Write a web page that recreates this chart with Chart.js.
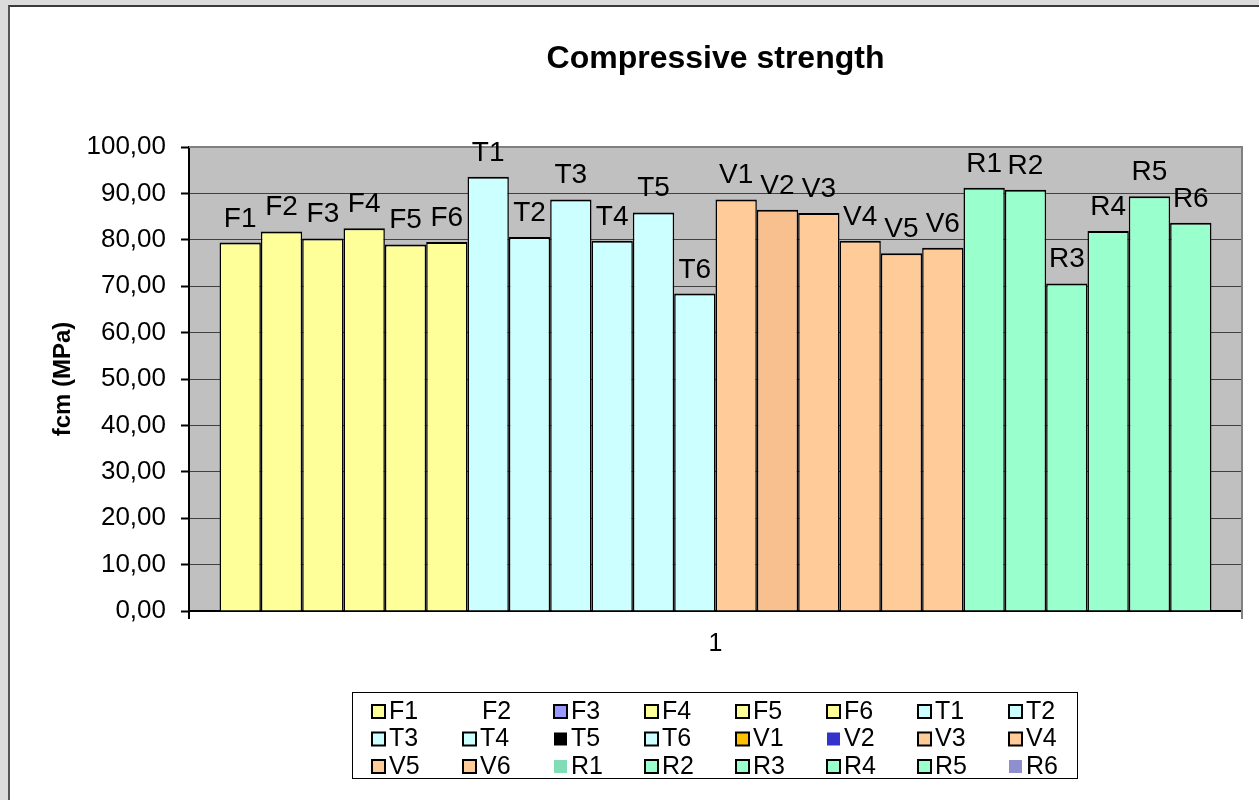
<!DOCTYPE html>
<html>
<head>
<meta charset="utf-8">
<title>Compressive strength</title>
<script src="https://cdn.jsdelivr.net/npm/chart.js@4.4.1/dist/chart.umd.min.js"></script>
<style>
  html, body { margin: 0; padding: 0; }
  body { width: 1259px; height: 800px; background: #dcdcdc; position: relative; overflow: hidden; }
  #sheet {
    position: absolute; left: 8px; top: 5px; width: 1300px; height: 850px;
    background: #fff; border-left: 2px solid #555; border-top: 2px solid #3a3a3a;
  }
  #wrap { position: absolute; left: 0; top: 0; width: 1259px; height: 800px; }
</style>
</head>
<body>
<div id="sheet"></div>
<div id="wrap"><canvas id="myChart" width="1259" height="800"></canvas></div>
<script>
// mix names and measured fcm values (MPa)
const mixes = ['F1', 'F2', 'F3', 'F4', 'F5', 'F6',
               'T1', 'T2', 'T3', 'T4', 'T5', 'T6',
               'V1', 'V2', 'V3', 'V4', 'V5', 'V6',
               'R1', 'R2', 'R3', 'R4', 'R5', 'R6'];
const fcm = [79.4, 81.8, 80.3, 82.5, 79.0, 79.5,
             93.6, 80.6, 88.7, 79.8, 85.9, 68.4,
             88.7, 86.5, 85.8, 79.8, 77.1, 78.3,
             91.2, 90.8, 70.6, 81.9, 89.4, 83.7];
const categories = ['1'];
const yTicks = [0, 10, 20, 30, 40, 50, 60, 70, 80, 90, 100];

// bar fills per mix
const barColors = ['#FFFF99', '#FFFF99', '#FFFF99', '#FFFF99', '#FFFF99', '#FFFF99',
                   '#CCFFFF', '#CCFFFF', '#CCFFFF', '#CCFFFF', '#CCFFFF', '#CCFFFF',
                   '#FFCC99', '#F9C08F', '#FFCC99', '#FFCC99', '#FFCC99', '#FFCC99',
                   '#99FFCC', '#99FFCC', '#99FFCC', '#99FFCC', '#99FFCC', '#99FFCC'];
// legend keys (null = no key drawn), and whether the key has an outline
const keyColors = ['#FFFF99', null, '#9999FF', '#FFFF99', '#FFFF99', '#FFFF99',
                   '#CCFFFF', '#CCFFFF', '#CCFFFF', '#CCFFFF', '#000000', '#CCFFFF',
                   '#FFC000', '#3333CC', '#FFCC99', '#FFCC99', '#FFCC99', '#FFCC99',
                   '#80DDB8', '#99FFCC', '#99FFCC', '#99FFCC', '#99FFCC', '#8F8FD0'];
const keyOutlined = [1, 0, 1, 1, 1, 1, 1, 1, 1, 1, 0, 1, 1, 0, 1, 1, 1, 1, 0, 1, 1, 1, 1, 0];

const FONT = "'Liberation Sans', Arial, sans-serif";
Chart.defaults.font.family = FONT;
Chart.defaults.color = '#000';

const datasets = mixes.map((name, i) => ({
    label: name,
    data: [fcm[i]],
    backgroundColor: barColors[i],
    borderColor: '#000',
    borderWidth: { top: 2, left: 1.5, right: 1.5, bottom: 0 },
    borderSkipped: false,
    categoryPercentage: 0.942,
    barPercentage: 1.0
}));

// grey plot area with its frame
const plotBackground = {
    id: 'plotBackground',
    beforeDraw(chart) {
        const { ctx, chartArea: a } = chart;
        ctx.save();
        ctx.fillStyle = '#C0C0C0';
        ctx.fillRect(a.left, a.top, a.right - a.left, a.bottom - a.top);
        ctx.restore();
    },
    beforeDatasetsDraw(chart) {
        const { ctx, chartArea: a } = chart;
        ctx.save();
        ctx.strokeStyle = '#808080';
        ctx.lineWidth = 2;
        ctx.beginPath();
        ctx.moveTo(a.left, a.top);
        ctx.lineTo(a.right, a.top);
        ctx.lineTo(a.right, a.bottom + 8);
        ctx.stroke();
        ctx.restore();
    }
};

// mix name above each bar
const barNames = {
    id: 'barNames',
    afterDatasetsDraw(chart) {
        const { ctx } = chart;
        ctx.save();
        ctx.font = '28px ' + FONT;
        ctx.fillStyle = '#000';
        ctx.textAlign = 'center';
        ctx.textBaseline = 'alphabetic';
        chart.data.datasets.forEach((ds, i) => {
            const bar = chart.getDatasetMeta(i).data[0];
            ctx.fillText(ds.label, bar.x, bar.y - 16);
        });
        ctx.restore();
    }
};

// title
const chartTitle = {
    id: 'chartTitle',
    afterDraw(chart) {
        const { ctx, chartArea: a } = chart;
        ctx.save();
        ctx.font = 'bold 32px ' + FONT;
        ctx.fillStyle = '#000';
        ctx.textAlign = 'center';
        ctx.textBaseline = 'middle';
        ctx.fillText('Compressive strength', (a.left + a.right) / 2, 59);
        ctx.restore();
    }
};

// boxed legend, 8 columns x 3 rows
const boxLegend = {
    id: 'boxLegend',
    afterDraw(chart) {
        const { ctx } = chart;
        const box = { x: 352, y: 692, w: 725, h: 86 };
        const cols = 8, colW = 91, rowH = 27.5, x0 = 372, y0 = 711;
        ctx.save();
        ctx.strokeStyle = '#000';
        ctx.lineWidth = 1;
        ctx.strokeRect(box.x + 0.5, box.y + 0.5, box.w, box.h);
        ctx.font = '25px ' + FONT;
        ctx.textBaseline = 'middle';
        ctx.textAlign = 'left';
        chart.data.datasets.forEach((ds, i) => {
            const cx = x0 + (i % cols) * colW;
            const cy = y0 + Math.floor(i / cols) * rowH;
            const key = keyColors[i];
            if (key) {
                ctx.fillStyle = key;
                ctx.fillRect(cx, cy - 6, 13, 13);
                if (keyOutlined[i]) {
                    ctx.strokeStyle = '#000';
                    ctx.lineWidth = 2;
                    ctx.strokeRect(cx, cy - 6, 13, 13);
                }
            }
            ctx.fillStyle = '#000';
            ctx.fillText(ds.label, key ? cx + 17 : cx + 19, cy + 1);
        });
        ctx.restore();
    }
};

new Chart(document.getElementById('myChart').getContext('2d'), {
    type: 'bar',
    data: { labels: categories, datasets: datasets },
    options: {
        responsive: false,
        animation: false,
        layout: { padding: { left: 0, top: 147, right: 17, bottom: 0 } },
        plugins: {
            legend: { display: false },
            title: { display: false },
            tooltip: { enabled: false }
        },
        scales: {
            x: {
                afterFit(scale) { scale.height = 189; },
                grid: {
                    offset: true,
                    drawOnChartArea: false,
                    drawTicks: true,
                    tickLength: 8,
                    color: '#000',
                    lineWidth: 2
                },
                border: { color: '#000', width: 2 },
                ticks: { font: { size: 25 }, padding: 10, color: '#000' }
            },
            y: {
                min: 0,
                max: 100,
                afterFit(scale) { scale.width = 189; },
                afterBuildTicks(scale) { scale.ticks = yTicks.map(v => ({ value: v })); },
                grid: {
                    color: '#404040',
                    lineWidth: 1,
                    tickLength: 8,
                    tickColor: '#000',
                    tickWidth: 2
                },
                border: { color: '#000', width: 2 },
                ticks: {
                    font: { size: 26 },
                    padding: 15,
                    color: '#000',
                    callback: v => v.toFixed(2).replace('.', ',')
                },
                title: {
                    display: true,
                    text: 'fcm (MPa)',
                    font: { size: 24, weight: 'bold', lineHeight: 1.2 },
                    padding: { top: 49, bottom: 0 },
                    color: '#000'
                }
            }
        }
    },
    plugins: [plotBackground, barNames, chartTitle, boxLegend]
});
</script>
</body>
</html>
